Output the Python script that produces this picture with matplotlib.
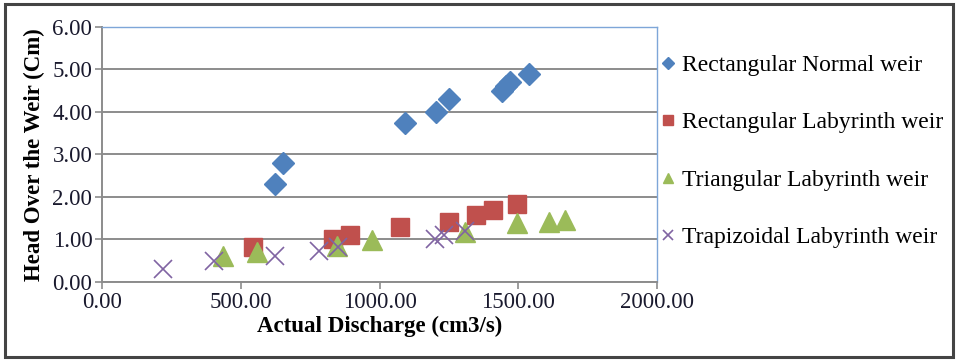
import matplotlib.pyplot as plt
from matplotlib.patches import Rectangle

# discharge (cm3/s) and head (cm) for each weir type
normal_q = [624, 653, 1093, 1203, 1251, 1440, 1455, 1470, 1540]
normal_h = [2.30, 2.80, 3.75, 4.00, 4.30, 4.50, 4.60, 4.70, 4.90]

rect_q = [543, 833, 893, 1073, 1251, 1347, 1409, 1496]
rect_h = [0.83, 1.00, 1.10, 1.30, 1.40, 1.57, 1.70, 1.83]

tri_q = [437, 557, 847, 973, 1309, 1497, 1611, 1667]
tri_h = [0.60, 0.70, 0.85, 0.98, 1.18, 1.38, 1.42, 1.47]

trap_q = [220, 405, 623, 783, 849, 1200, 1233, 1307]
trap_h = [0.30, 0.50, 0.60, 0.72, 0.82, 1.00, 1.10, 1.20]

names = ["Rectangular Normal weir", "Rectangular Labyrinth weir",
         "Triangular Labyrinth weir", "Trapizoidal Labyrinth weir"]

plt.rcParams["font.family"] = ["Liberation Serif", "DejaVu Serif"]

fig = plt.figure(figsize=(9.58, 3.6), dpi=100)
ax = fig.add_axes([0.1065, 0.2167, 0.5793, 0.7083])

ax.plot(normal_q, normal_h, "D", ms=11, color="#4F81BD", label=names[0], zorder=3)
ax.plot(rect_q, rect_h, "s", ms=13, color="#C0504D", label=names[1], zorder=3)
ax.plot(tri_q, tri_h, "^", ms=14, color="#9BBB59", label=names[2], zorder=3)
ax.plot(trap_q, trap_h, "x", ms=13, mew=1.2, color="#8064A2", label=names[3], zorder=3)

ax.set_xlim(0, 2000)
ax.set_ylim(0, 6)
ax.set_xticks(range(0, 2001, 500))
ax.set_yticks(range(0, 7))
ax.set_xticklabels(["%.2f" % v for v in range(0, 2001, 500)])
ax.set_yticklabels(["%.2f" % v for v in range(0, 7)])
ax.tick_params(labelsize=16.5, colors="#8C8C8C", labelcolor="#1A1A2E",
               length=5, width=1.2, direction="out", pad=2)
ax.yaxis.grid(True, color="#8C8C8C", lw=1.4)
ax.set_axisbelow(True)

for side in ["left", "bottom"]:
    ax.spines[side].set_color("#8C8C8C")
    ax.spines[side].set_linewidth(1.4)
for side in ["top", "right"]:
    ax.spines[side].set_color("#7EA6D8")
    ax.spines[side].set_linewidth(1.0)

ax.set_xlabel("Actual Discharge (cm3/s)", fontsize=16.5, fontweight="bold", labelpad=2)
ax.set_ylabel("Head Over the Weir (Cm)", fontsize=16.5, fontweight="bold", labelpad=5)

fig.legend(loc="upper left", bbox_to_anchor=(0.68, 0.875), frameon=False,
           fontsize=17, markerscale=0.55, handlelength=0.6, handletextpad=0.3,
           labelspacing=1.52, borderaxespad=0)

# dark frame around the whole chart
fig.add_artist(Rectangle((0.005, 0.008), 0.99, 0.98, transform=fig.transFigure,
                         fill=False, ec="#444444", lw=2.2))

fig.savefig("out.png", dpi=100)
